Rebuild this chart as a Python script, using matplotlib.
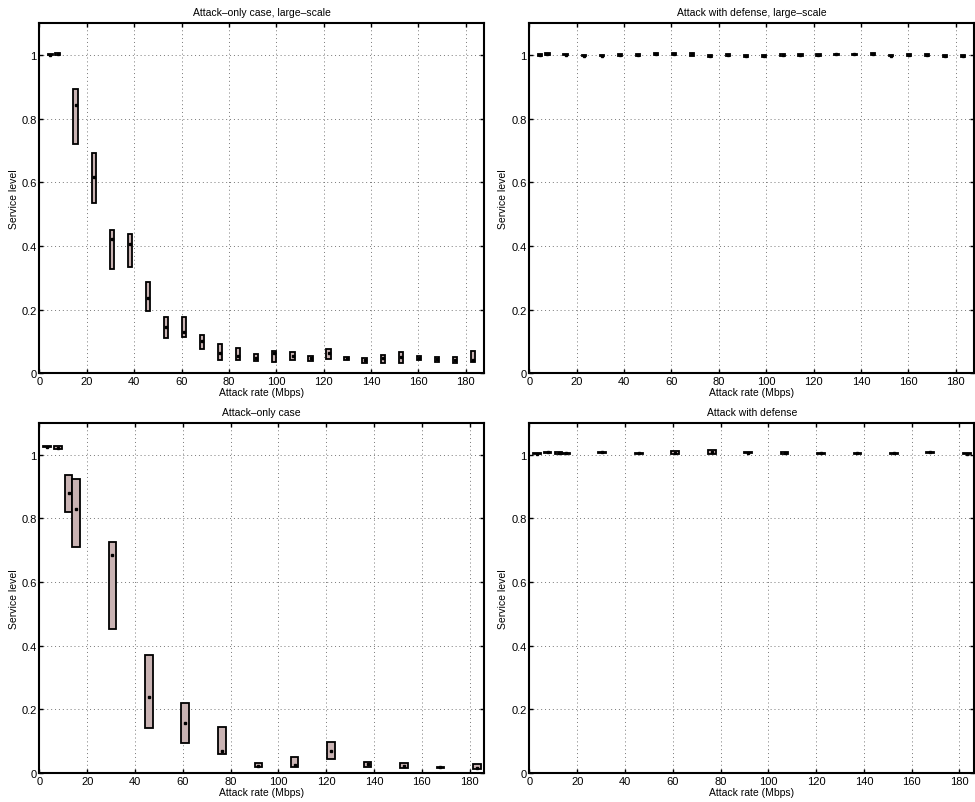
import matplotlib.pyplot as plt

plt.rcParams['font.family'] = ['Liberation Sans', 'DejaVu Sans']
plt.rcParams['font.size'] = 8

# large-scale runs (attack rate in Mbps)
x_large = [4.6, 7.63, 15.26, 22.9, 30.5, 38.2, 45.8, 53.4, 61.0, 68.7, 76.3, 84.0, 91.6,
           99.2, 106.9, 114.5, 122.1, 129.7, 137.3, 145.0, 152.6, 160.2, 167.9, 175.5, 183.1]

atk_large_lo = [0.999, 1.000, 0.721, 0.535, 0.327, 0.333, 0.195, 0.111, 0.113, 0.075, 0.042, 0.041, 0.037,
                0.036, 0.042, 0.038, 0.045, 0.042, 0.033, 0.032, 0.031, 0.040, 0.035, 0.031, 0.035]
atk_large_med = [1.000, 1.003, 0.844, 0.618, 0.422, 0.406, 0.236, 0.146, 0.130, 0.102, 0.063, 0.053, 0.047,
                 0.063, 0.055, 0.047, 0.064, 0.047, 0.040, 0.047, 0.050, 0.047, 0.044, 0.040, 0.041]
atk_large_hi = [1.002, 1.006, 0.894, 0.692, 0.449, 0.437, 0.285, 0.176, 0.175, 0.119, 0.093, 0.080, 0.061,
                0.071, 0.066, 0.055, 0.076, 0.052, 0.048, 0.057, 0.067, 0.053, 0.052, 0.050, 0.071]

def_large_lo = [0.998, 1.000, 0.999, 0.996, 0.996, 0.997, 0.997, 0.999, 0.999, 0.998, 0.995, 0.997, 0.995,
                0.995, 0.997, 0.997, 0.997, 0.999, 0.999, 1.000, 0.996, 0.997, 0.996, 0.995, 0.995]
def_large_med = [1.001, 1.003, 1.001, 0.998, 0.998, 0.999, 1.000, 1.003, 1.003, 1.002, 0.998, 1.000, 0.998,
                 0.998, 1.000, 1.000, 0.999, 1.002, 1.002, 1.003, 0.998, 0.999, 0.999, 0.997, 0.998]
def_large_hi = [1.004, 1.007, 1.004, 1.000, 1.000, 1.003, 1.003, 1.006, 1.006, 1.005, 1.001, 1.002, 1.001,
                1.001, 1.003, 1.003, 1.003, 1.004, 1.004, 1.006, 1.001, 1.003, 1.002, 1.000, 1.001]

# small-scale runs
x_small = [3.05, 7.63, 12.2, 15.26, 30.5, 45.8, 61.0, 76.3, 91.6, 106.8, 122.1, 137.3, 152.6, 167.8, 183.1]

atk_lo = [1.024, 1.018, 0.820, 0.711, 0.454, 0.142, 0.093, 0.060, 0.018, 0.018, 0.043, 0.019, 0.016, 0.016, 0.014]
atk_med = [1.026, 1.022, 0.881, 0.831, 0.686, 0.238, 0.156, 0.068, 0.023, 0.024, 0.070, 0.027, 0.023, 0.018, 0.017]
atk_hi = [1.028, 1.027, 0.936, 0.924, 0.726, 0.371, 0.219, 0.144, 0.033, 0.051, 0.097, 0.035, 0.031, 0.019, 0.030]

def_lo = [1.002, 1.005, 1.004, 1.003, 1.005, 1.003, 1.004, 1.004, 1.005, 1.003, 1.004, 1.003, 1.003, 1.005, 1.001]
def_med = [1.004, 1.008, 1.006, 1.005, 1.008, 1.005, 1.007, 1.009, 1.007, 1.006, 1.005, 1.005, 1.005, 1.008, 1.004]
def_hi = [1.006, 1.010, 1.008, 1.007, 1.010, 1.007, 1.011, 1.016, 1.009, 1.009, 1.007, 1.007, 1.007, 1.010, 1.006]

box_color = '#c9b3b3'

fig = plt.figure(figsize=(9.75, 8.03), dpi=100)


def panel(rect, x, lo, med, hi, width, title, xmax):
    ax = fig.add_axes(rect)
    heights = [h - l for l, h in zip(lo, hi)]
    ax.bar(x, heights, bottom=lo, width=width, color=box_color, edgecolor='black',
           linewidth=1.3, zorder=3)
    ax.plot(x, med, 's', color='black', ms=1.6, zorder=4)
    ax.set_xlim(0, xmax)
    ax.set_ylim(0, 1.1)
    ax.set_xticks(range(0, 181, 20))
    ax.set_yticks([0, 0.2, 0.4, 0.6, 0.8, 1])
    ax.set_yticklabels(['0', '0.2', '0.4', '0.6', '0.8', '1'])
    ax.grid(True, linestyle=(0, (1, 3)), color='#777777', linewidth=0.7)
    ax.set_axisbelow(True)
    ax.tick_params(direction='in', top=True, right=True, length=3, width=1, labelsize=8, pad=2)
    for s in ax.spines.values():
        s.set_linewidth(1.5)
    ax.set_title(title, fontsize=7.5, pad=6)
    ax.set_xlabel('Attack rate (Mbps)', fontsize=7.5, labelpad=1)
    ax.set_ylabel('Service level', fontsize=7.5, labelpad=2)
    return ax


panel([0.0405, 0.534, 0.456, 0.436], x_large, atk_large_lo, atk_large_med, atk_large_hi,
      1.8, 'Attack\u2013only case, large\u2013scale', 187.8)
panel([0.543, 0.534, 0.456, 0.436], x_large, def_large_lo, def_large_med, def_large_hi,
      1.8, 'Attack with defense, large\u2013scale', 187.8)
panel([0.0405, 0.036, 0.456, 0.436], x_small, atk_lo, atk_med, atk_hi,
      3.2, 'Attack\u2013only case', 186.1)
panel([0.543, 0.036, 0.456, 0.436], x_small, def_lo, def_med, def_hi,
      3.2, 'Attack with defense', 186.1)

fig.savefig('out.png', dpi=100)
